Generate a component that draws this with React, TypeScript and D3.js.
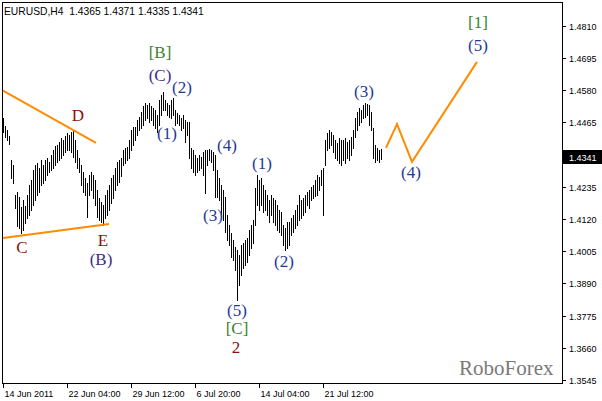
import React from 'react';
import * as d3 from 'd3';

const symbolTitle = 'EURUSD,H4';
const lastOHLC = [1.4365, 1.4371, 1.4335, 1.4341];
const lastPrice = 1.4341;

// H4 bar highs / lows, oldest first
const barHigh = [
  1.4481, 1.4452, 1.4438, 1.4416, 1.4331, 1.4313, 1.4206, 1.4217, 1.4199, 1.4163,
  1.4188, 1.4167, 1.4206, 1.4242, 1.4259, 1.4295, 1.4313, 1.4320, 1.4302, 1.4331,
  1.4313, 1.4331, 1.4338, 1.4324, 1.4349, 1.4366, 1.4381, 1.4384, 1.4395, 1.4409,
  1.4402, 1.4416, 1.4427, 1.4420, 1.4431, 1.4438, 1.4402, 1.4366, 1.4338, 1.4313,
  1.4288, 1.4267, 1.4249, 1.4277, 1.4288, 1.4277, 1.4259, 1.4224, 1.4195, 1.4181,
  1.4170, 1.4206, 1.4224, 1.4242, 1.4267, 1.4277, 1.4302, 1.4324, 1.4331, 1.4338,
  1.4366, 1.4374, 1.4377, 1.4402, 1.4438, 1.4449, 1.4449, 1.4474, 1.4484, 1.4502,
  1.4524, 1.4534, 1.4527, 1.4534, 1.4524, 1.4516, 1.4509, 1.4491, 1.4545, 1.4563,
  1.4574, 1.4545, 1.4534, 1.4527, 1.4545, 1.4552, 1.4509, 1.4499, 1.4491, 1.4481,
  1.4491, 1.4474, 1.4466, 1.4466, 1.4374, 1.4366, 1.4349, 1.4338, 1.4349, 1.4342,
  1.4359, 1.4366, 1.4366, 1.4370, 1.4366, 1.4359, 1.4349, 1.4295, 1.4267, 1.4242,
  1.4224, 1.4199, 1.4134, 1.4099, 1.4070, 1.4045, 1.4020, 1.4010, 1.3992, 1.4027,
  1.4034, 1.4045, 1.4052, 1.4081, 1.4099, 1.4117, 1.4231, 1.4277, 1.4259, 1.4267,
  1.4242, 1.4224, 1.4206, 1.4188, 1.4206, 1.4195, 1.4188, 1.4170, 1.4152, 1.4145,
  1.4099, 1.4088, 1.4109, 1.4109, 1.4124, 1.4134, 1.4152, 1.4170, 1.4206, 1.4188,
  1.4195, 1.4206, 1.4217, 1.4224, 1.4234, 1.4242, 1.4259, 1.4277, 1.4270, 1.4295,
  1.4302, 1.4402, 1.4427, 1.4438, 1.4431, 1.4420, 1.4402, 1.4391, 1.4409, 1.4402,
  1.4402, 1.4409, 1.4395, 1.4402, 1.4413, 1.4438, 1.4481, 1.4502, 1.4516, 1.4509,
  1.4527, 1.4534, 1.4531, 1.4527, 1.4502, 1.4445, 1.4384, 1.4374, 1.4366, 1.4371,
];
const barLow = [
  1.4431, 1.4413, 1.4402, 1.4388, 1.4267, 1.4249, 1.4159, 1.4095, 1.4088, 1.4070,
  1.4081, 1.4106, 1.4124, 1.4134, 1.4152, 1.4170, 1.4188, 1.4206, 1.4217, 1.4242,
  1.4249, 1.4259, 1.4277, 1.4288, 1.4295, 1.4302, 1.4313, 1.4324, 1.4331, 1.4338,
  1.4349, 1.4359, 1.4366, 1.4366, 1.4359, 1.4342, 1.4324, 1.4302, 1.4288, 1.4242,
  1.4217, 1.4206, 1.4127, 1.4206, 1.4224, 1.4195, 1.4170, 1.4127, 1.4117, 1.4109,
  1.4099, 1.4124, 1.4134, 1.4152, 1.4177, 1.4195, 1.4224, 1.4242, 1.4252, 1.4274,
  1.4313, 1.4320, 1.4331, 1.4338, 1.4366, 1.4384, 1.4402, 1.4420, 1.4438, 1.4445,
  1.4456, 1.4474, 1.4481, 1.4466, 1.4474, 1.4456, 1.4445, 1.4431, 1.4456, 1.4491,
  1.4509, 1.4509, 1.4491, 1.4484, 1.4481, 1.4491, 1.4456, 1.4463, 1.4456, 1.4438,
  1.4445, 1.4395, 1.4420, 1.4338, 1.4302, 1.4288, 1.4277, 1.4288, 1.4295, 1.4302,
  1.4277, 1.4213, 1.4313, 1.4331, 1.4324, 1.4295, 1.4199, 1.4199, 1.4188, 1.4134,
  1.4117, 1.4074, 1.4045, 1.4027, 1.3985, 1.3974, 1.3938, 1.3831, 1.3885, 1.3920,
  1.3945, 1.3956, 1.3967, 1.3992, 1.4017, 1.4034, 1.4099, 1.4170, 1.4152, 1.4170,
  1.4145, 1.4152, 1.4134, 1.4109, 1.4134, 1.4109, 1.4099, 1.4081, 1.4074, 1.4063,
  1.4027, 1.4010, 1.4017, 1.4027, 1.4063, 1.4074, 1.4088, 1.4099, 1.4117, 1.4124,
  1.4134, 1.4145, 1.4170, 1.4159, 1.4188, 1.4195, 1.4202, 1.4206, 1.4224, 1.4242,
  1.4134, 1.4313, 1.4366, 1.4374, 1.4384, 1.4359, 1.4338, 1.4331, 1.4320, 1.4313,
  1.4331, 1.4320, 1.4338, 1.4331, 1.4349, 1.4374, 1.4413, 1.4438, 1.4456, 1.4466,
  1.4481, 1.4484, 1.4491, 1.4456, 1.4438, 1.4338, 1.4324, 1.4331, 1.4324, 1.4335,
];

// 1.4350 is hidden under the current-price box, so it is left out
const priceTicks = [1.4810, 1.4695, 1.4580, 1.4465, 1.4235, 1.4120, 1.4005, 1.3890, 1.3775, 1.3660, 1.3545];
const timeTickBar = [0, 32, 64, 96, 128, 160];
const timeTickLabel = ['14 Jun 2011', '22 Jun 04:00', '29 Jun 12:00', '6 Jul 20:00', '14 Jul 04:00', '21 Jul 12:00'];

// triangle trend lines (bar index, price)
const upperLineBar = [0, 46.5];
const upperLinePrice = [1.4578, 1.4392];
const lowerLineBar = [0, 53];
const lowerLinePrice = [1.4052, 1.4102];

// forecast path
const forecastBar = [191.5, 197, 204.5, 237];
const forecastPrice = [1.4374, 1.4459, 1.4324, 1.4681];

// wave labels
const waveText = ['D', 'C', 'E', '(B)', '[B]', '(C)', '(2)', '(1)', '(4)', '(3)', '(5)', '[C]', '2', '(1)', '(2)', '(3)', '(4)', '[1]', '(5)'];
const waveBar = [37.5, 9.5, 50, 49, 78.5, 78.5, 89.5, 82, 112, 105, 117, 117, 116.5, 129.5, 140.5, 180.5, 204, 237.5, 237.5];
const wavePrice = [1.4488, 1.4017, 1.4045, 1.3977, 1.4716, 1.4634, 1.4588, 1.4427, 1.4384, 1.4134, 1.3792, 1.3731, 1.3663, 1.4317, 1.3967, 1.4574, 1.4288, 1.4823, 1.4741];
const waveDegree = ['sub', 'sub', 'sub', 'minor', 'inter', 'minor', 'minute', 'minute', 'minute', 'minute', 'minute', 'inter', 'sub', 'minute', 'minute', 'minute', 'minute', 'inter', 'minute'];

const degreeColor: Record<string, string> = {
  sub: '#8B0F0F',
  minor: '#3F2A86',
  inter: '#3A8228',
  minute: '#1F3A94',
};

const W = 602;
const H = 401;
const L = 2;
const T = 3;
const R = 562;
const B = 383;

export default function App() {
  const x = d3.scaleLinear().domain([0, barHigh.length - 1]).range([3, 3 + 2 * (barHigh.length - 1)]);
  const y = d3.scaleLinear().domain([1.3545, 1.4810]).range([380, 25.7]);

  const line = d3
    .line<[number, number]>()
    .x((d) => x(d[0]))
    .y((d) => y(d[1]));

  const upper = line(upperLineBar.map((b, i) => [b, upperLinePrice[i]]));
  const lower = line(lowerLineBar.map((b, i) => [b, lowerLinePrice[i]]));
  const forecast = line(forecastBar.map((b, i) => [b, forecastPrice[i]]));

  const sans = '"Liberation Sans", Arial, sans-serif';
  const serif = '"Liberation Serif", "Times New Roman", serif';
  const lastY = y(lastPrice);

  return (
    <svg width={W} height={H} style={{ position: 'absolute', left: 0, top: 0, background: '#fff' }}>
      <rect x={0} y={0} width={W} height={H} fill="#fff" />
      {/* frame */}
      <rect x={L + 0.5} y={T - 0.5} width={R - L} height={B - T + 1} fill="none" stroke="#000" strokeWidth={1} />

      {/* header */}
      <text x={4} y={15} fontFamily={sans} fontSize={10.3} fill="#000">
        {symbolTitle + '\u00a0\u00a0' + lastOHLC.map((v) => v.toFixed(4)).join(' ')}
      </text>

      {/* bars */}
      <g stroke="#000" strokeWidth={1}>
        {barHigh.map((h, i) => (
          <line key={i} x1={Math.round(x(i)) + 0.5} x2={Math.round(x(i)) + 0.5} y1={Math.round(y(h))} y2={Math.round(y(barLow[i])) + 1} />
        ))}
      </g>

      {/* trend lines and forecast */}
      <g fill="none" stroke="#FF8C00" strokeWidth={2} strokeLinejoin="miter">
        <path d={upper || ''} />
        <path d={lower || ''} />
        <path d={forecast || ''} />
      </g>

      {/* wave labels */}
      {waveText.map((t, i) => (
        <text
          key={i}
          x={x(waveBar[i])}
          y={y(wavePrice[i])}
          dy="0.33em"
          textAnchor="middle"
          fontFamily={serif}
          fontSize={17}
          fill={degreeColor[waveDegree[i]]}
        >
          {t}
        </text>
      ))}

      {/* price axis */}
      <g>
        {priceTicks.map((p) => {
          const yy = Math.round(y(p)) + 0.5;
          return (
            <g key={p}>
              <line x1={R} x2={R + 4} y1={yy} y2={yy} stroke="#000" />
              <text x={R + 7} y={yy + 3.2} fontFamily={sans} fontSize={9} fill="#000">
                {p.toFixed(4)}
              </text>
            </g>
          );
        })}
        <rect x={R + 1} y={Math.round(lastY) - 7} width={W - R - 1} height={14} fill="#000" />
        <text x={R + 7} y={Math.round(lastY) + 3.5} fontFamily={sans} fontSize={9} fill="#fff">
          {lastPrice.toFixed(4)}
        </text>
      </g>

      {/* time axis */}
      <g>
        {timeTickBar.map((b, i) => {
          const xx = Math.round(x(b)) + 0.5;
          return (
            <g key={b}>
              <line x1={xx} x2={xx} y1={B} y2={B + 5} stroke="#000" />
              <text x={xx + 1} y={B + 14} fontFamily={sans} fontSize={9} fill="#000">
                {timeTickLabel[i]}
              </text>
            </g>
          );
        })}
      </g>

      {/* watermark */}
      <text x={459} y={375} fontFamily={serif} fontSize={21} fill="#7a7a7a">
        RoboForex
      </text>
    </svg>
  );
}
